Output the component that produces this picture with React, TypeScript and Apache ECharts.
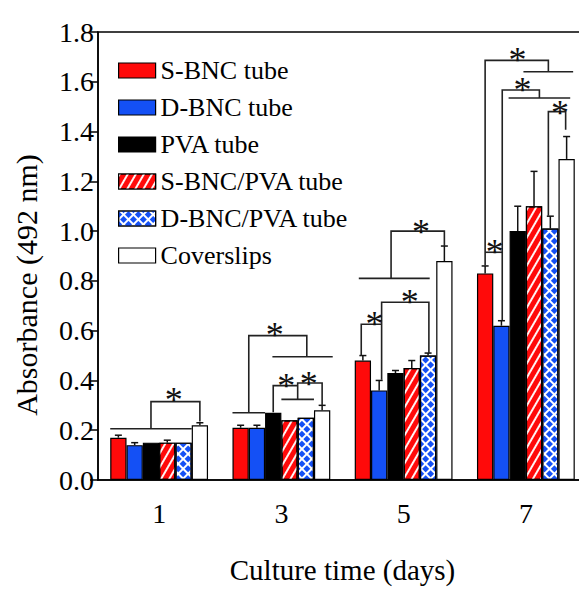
import React, { useEffect, useRef } from "react";
import * as echarts from "echarts";

const categories = ["1", "3", "5", "7"];
const seriesNames = ["S-BNC tube", "D-BNC tube", "PVA tube", "S-BNC/PVA tube", "D-BNC/PVA tube", "Coverslips"];

const sBnc = [0.17, 0.21, 0.48, 0.83];
const sBncErr = [0.01, 0.01, 0.02, 0.03];
const dBnc = [0.14, 0.21, 0.36, 0.62];
const dBncErr = [0.01, 0.01, 0.04, 0.02];
const pva = [0.15, 0.27, 0.43, 1.0];
const pvaErr = [0, 0, 0.01, 0.1];
const sBncPva = [0.15, 0.24, 0.45, 1.1];
const sBncPvaErr = [0.01, 0, 0.03, 0.14];
const dBncPva = [0.15, 0.25, 0.5, 1.01];
const dBncPvaErr = [0, 0, 0.01, 0.05];
const coverslips = [0.22, 0.28, 0.88, 1.29];
const coverslipsErr = [0.01, 0.02, 0.06, 0.09];

const values = [sBnc, dBnc, pva, sBncPva, dBncPva, coverslips];
const errors = [sBncErr, dBncErr, pvaErr, sBncPvaErr, dBncPvaErr, coverslipsErr];

// significance brackets: group index, path of [bar position, value]
const bracketGroup = [0, 0, 1, 1, 1, 1, 1, 1, 2, 2, 2, 2, 3, 3, 3, 3, 3, 3];
const bracketPath: number[][][] = [
  [[-0.5, 0.206], [4.5, 0.206]],
  [[2, 0.206], [2, 0.315], [5, 0.315], [5, 0.235]],
  [[-0.5, 0.27], [1.5, 0.27]],
  [[0.5, 0.27], [0.5, 0.58], [4.06, 0.58], [4.06, 0.495]],
  [[1.95, 0.495], [5.65, 0.495]],
  [[2, 0.272], [2, 0.379], [3.5, 0.379]],
  [[2.5, 0.324], [4.5, 0.324]],
  [[3.5, 0.324], [3.5, 0.39], [5, 0.39], [5, 0.3]],
  [[-0.1, 0.5], [-0.1, 0.626], [1.15, 0.626]],
  [[1.15, 0.403], [1.15, 0.714], [4.05, 0.714], [4.05, 0.51]],
  [[-0.25, 0.81], [4.1, 0.81]],
  [[1.73, 0.81], [1.73, 1.0], [5, 1.0], [5, 0.94]],
  [[0, 0.862], [0, 1.686], [3.88, 1.686], [3.88, 1.64]],
  [[2.35, 1.64], [5.4, 1.64]],
  [[0, 0.915], [1.05, 0.915]],
  [[1.05, 0.642], [1.05, 1.567], [3.33, 1.567], [3.33, 1.535]],
  [[1.44, 1.535], [5.22, 1.535]],
  [[3.88, 1.062], [3.88, 1.48], [4.94, 1.48], [4.94, 1.407]],
];

const starGroup = [0, 1, 1, 1, 2, 2, 2, 3, 3, 3, 3];
const starPos = [3.4, 2.1, 2.8, 4.18, 0.71, 2.87, 3.56, 0.59, 1.99, 2.29, 4.59];
const starValue = [0.344, 0.606, 0.403, 0.41, 0.65, 0.738, 1.022, 0.941, 1.713, 1.59, 1.5];

const FONT = '"Liberation Serif", "Times New Roman", serif';
const RED = "#ff0a0a";
const BLUE = "#1450f5";

export default function App() {
  const ref = useRef<HTMLDivElement>(null);
  useEffect(() => {
    if (!ref.current) return;
    const chart = echarts.init(ref.current, undefined, { renderer: "svg" });
    const nBars = 6;
    const barOffset = (api: any, g: number, pos: number, v: number) => {
      const c = api.coord([g, v]);
      const bandW = api.size([1, 0])[0];
      const barW = (bandW * 0.8) / nBars;
      return [c[0] + (pos - 2.5) * barW, c[1]];
    };
    const styles = [
      { color: RED },
      { color: BLUE },
      { color: "#000" },
      {
        color: RED,
        decal: {
          symbol: "rect",
          symbolSize: 1,
          color: "rgba(255,255,255,0.95)",
          dashArrayX: [1, 0],
          dashArrayY: [2, 5],
          rotation: -Math.PI / 3,
        },
      },
      {
        color: "#ffffff",
        decal: {
          symbol: "rect",
          symbolSize: 1,
          color: BLUE,
          dashArrayX: [4.4, 1.4],
          dashArrayY: [4.4, 1.4],
          rotation: Math.PI / 4,
        },
      },
      { color: "#ffffff" },
    ];
    const barSeries = seriesNames.map((name, s) => ({
      type: "bar",
      name,
      data: values[s],
      barGap: "0%",
      barCategoryGap: "20%",
      itemStyle: { ...styles[s], borderColor: "#000", borderWidth: 1.2 },
      z: 2,
    }));
    const errData: number[][] = [];
    values.forEach((arr, s) => arr.forEach((v, g) => errData.push([g, s, v, errors[s][g]])));
    const option: any = {
      animation: false,
      backgroundColor: "#fff",
      grid: {
        left: 98,
        right: 13,
        top: 32,
        bottom: 100.5,
        show: true,
        borderColor: "#000",
        borderWidth: 1.5,
        backgroundColor: "transparent",
      },
      legend: {
        orient: "vertical",
        left: 113,
        top: 52.5,
        itemWidth: 37,
        itemHeight: 15,
        itemGap: 11,
        icon: "rect",
        data: seriesNames,
        textStyle: { fontFamily: FONT, fontSize: 26, color: "#000", lineHeight: 26 },
        itemStyle: { borderColor: "#000", borderWidth: 1.2 },
      },
      xAxis: [
        {
          type: "category",
          data: categories,
          position: "bottom",
          axisLine: { lineStyle: { color: "#000", width: 1.5 } },
          axisTick: { alignWithLabel: true, length: 8, lineStyle: { color: "#000", width: 1.5 } },
          axisLabel: { fontFamily: FONT, fontSize: 28, color: "#000", margin: 19 },
          name: "Culture time (days)",
          nameLocation: "middle",
          nameGap: 75,
          nameTextStyle: { fontFamily: FONT, fontSize: 29, color: "#000" },
        },
        {
          type: "category",
          data: categories,
          position: "bottom",
          axisLine: { show: false },
          axisTick: { length: 5, lineStyle: { color: "#000", width: 1.5 } },
          axisLabel: { show: false },
        },
      ],
      yAxis: {
        type: "value",
        min: 0,
        max: 1.8,
        interval: 0.2,
        axisLine: { show: true, lineStyle: { color: "#000", width: 1.5 } },
        axisTick: { show: true, length: 8, lineStyle: { color: "#000", width: 1.5 } },
        axisLabel: {
          fontFamily: FONT,
          fontSize: 28,
          color: "#000",
          margin: 4,
          formatter: (v: number) => v.toFixed(1),
        },
        splitLine: { show: false },
      },
      graphic: [
        {
          type: "text",
          x: 26,
          y: 285,
          rotation: Math.PI / 2,
          style: {
            text: "Absorbance (492 nm)",
            font: `30px ${FONT}`,
            fill: "#000",
            align: "center",
            verticalAlign: "middle",
          },
        },
      ],
      series: [
        ...barSeries,
        {
          type: "custom",
          z: 4,
          data: errData,
          renderItem: (params: any, api: any) => {
            const g = api.value(0);
            const s = api.value(1);
            const v = api.value(2);
            const e = api.value(3);
            if (!e) return null;
            const p0 = barOffset(api, g, s, v);
            const p1 = barOffset(api, g, s, v + e);
            const st = { stroke: "#111", lineWidth: 1.5 };
            return {
              type: "group",
              children: [
                { type: "line", shape: { x1: p0[0], y1: p0[1], x2: p1[0], y2: p1[1] }, style: st },
                { type: "line", shape: { x1: p1[0] - 3.5, y1: p1[1], x2: p1[0] + 3.5, y2: p1[1] }, style: st },
              ],
            };
          },
        },
        {
          type: "custom",
          z: 5,
          data: bracketGroup.map((g, i) => [g, i]),
          renderItem: (params: any, api: any) => {
            const g = api.value(0);
            const i = api.value(1);
            const pts = bracketPath[i].map(([p, v]) => barOffset(api, g, p, v));
            return {
              type: "polyline",
              shape: { points: pts },
              style: { stroke: "#222", lineWidth: 1.6, fill: null },
            };
          },
        },
        {
          type: "custom",
          z: 6,
          data: starGroup.map((g, i) => [g, i]),
          renderItem: (params: any, api: any) => {
            const g = api.value(0);
            const i = api.value(1);
            const p = barOffset(api, g, starPos[i], starValue[i]);
            return {
              type: "text",
              x: p[0],
              y: p[1] + 6,
              style: {
                text: "*",
                font: `36px ${FONT}`,
                lineHeight: 16,
                fill: "#111",
                align: "center",
                verticalAlign: "middle",
              },
            };
          },
        },
      ],
    };
    chart.setOption(option);
    return () => chart.dispose();
  }, []);
  return (
    <div
      style={{
        position: "fixed",
        left: 0,
        top: 0,
        width: 579,
        height: 589,
        overflow: "hidden",
        background: "#fff",
      }}
    >
      <div ref={ref} style={{ width: 600, height: 589 }} />
    </div>
  );
}
